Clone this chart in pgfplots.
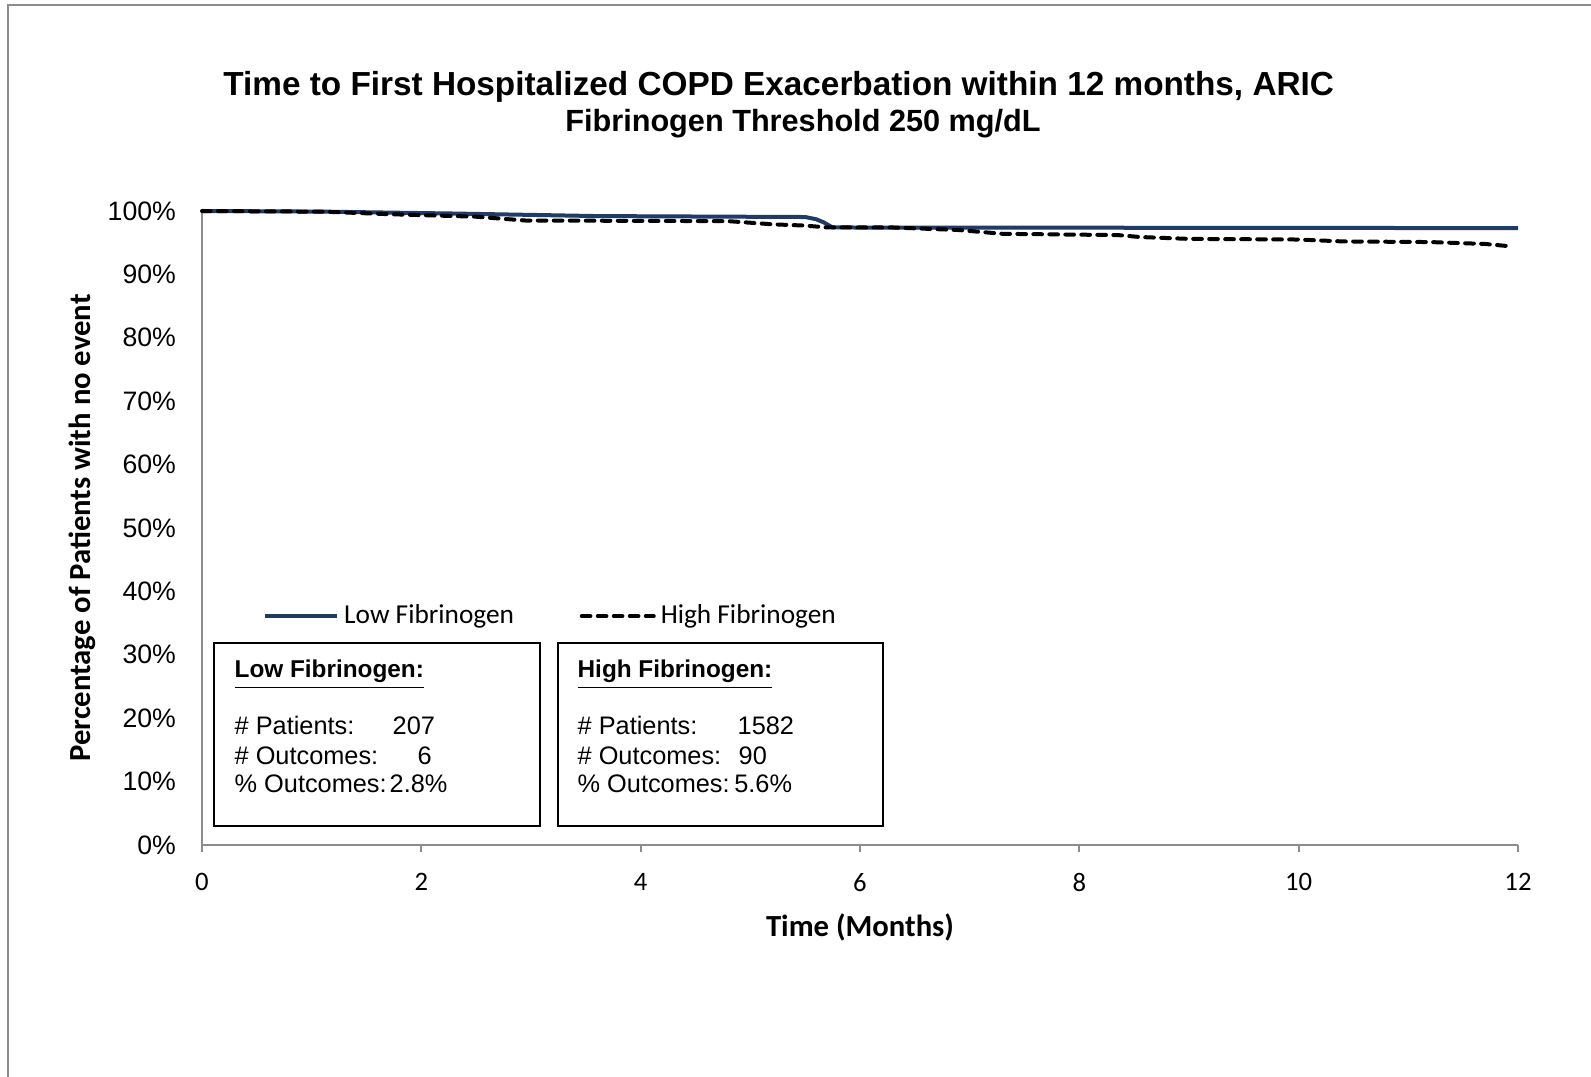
\documentclass[border=0pt]{standalone}
\usepackage{fontspec}
\setmainfont{Liberation Sans}
\newfontfamily\calibri{Carlito}
\usepackage{pgfplots}
\pgfplotsset{compat=1.18}
\definecolor{navy}{HTML}{1F3B66}
\definecolor{axgray}{HTML}{8C8C8C}
\begin{document}
\begin{tikzpicture}
\path[use as bounding box] (0pt,0pt) rectangle (477.3pt,-323.1pt);
\draw[axgray,line width=0.6pt] (2.4pt,-1.5pt) rectangle (520pt,-420pt);
\begin{axis}[
  at={(60.6pt,-253.5pt)}, anchor=south west,
  scale only axis, width=394.8pt, height=190.2pt,
  xmin=0, xmax=12, ymin=0, ymax=100,
  axis x line*=bottom, axis y line*=left,
  axis line style={axgray, line width=0.6pt},
  xtick={0,2,...,12},
  xticklabels={0,2,4,6,8,10,12},
  ytick={0,10,...,100},
  yticklabels={0\%,10\%,20\%,30\%,40\%,50\%,60\%,70\%,80\%,90\%,100\%},
  xtick align=outside,
  major tick length=2pt,
  xtick style={axgray, line width=0.6pt},
  ytick style={draw=none},
  xticklabel style={font=\calibri\fontsize{8}{9.6}\selectfont, yshift=-3pt},
  yticklabel style={font=\fontsize{8}{9.6}\selectfont, xshift=-4.3pt},
  xlabel={\calibri\bfseries Time (Months)},
  xlabel style={font=\fontsize{9.2}{11}\selectfont, yshift=0.4pt},
  ylabel={\calibri\bfseries Percentage of Patients with no event},
  ylabel style={font=\fontsize{9.2}{11}\selectfont, yshift=-3.4pt},
  legend columns=2,
  legend style={at={(rel axis cs:0.046,0.361)}, anchor=west, draw=none, fill=none,
    font=\calibri\fontsize{8.2}{9.8}\selectfont, inner xsep=0pt,
    nodes={inner xsep=1.5pt},
    /tikz/every even column/.append style={column sep=18.2pt}},
  legend cell align=left,
  legend image code/.code={\draw[#1] (0pt,0pt) -- (21.6pt,0pt);},
  clip=false,
]
\addplot[navy, line width=1.2pt] coordinates {
(0,100) (1.1,99.9) (2.3,99.6) (3.6,99.2) (5.5,99.05) (5.6,98.7) (5.67,98.2) (5.75,97.4) (12,97.3)
};
\addlegendentry{Low Fibrinogen}
\addplot[black, line width=1.2pt, dash pattern=on 2.6pt off 2.2pt, line cap=round] coordinates {
(0,100) (1.1,99.9) (1.7,99.5) (2.5,99.1) (2.95,98.5) (4.8,98.4) (5.2,97.9) (5.5,97.7) (5.7,97.4) (6.3,97.4) (6.9,97.0) (7.1,96.7) (7.3,96.4) (8.35,96.2) (8.55,95.9) (9.0,95.6) (10.0,95.5) (10.4,95.2) (11.2,95.1) (11.7,94.8) (11.95,94.4)
};
\addlegendentry{High Fibrinogen}
\end{axis}
% titles
\node[font=\bfseries\fontsize{10}{12}\selectfont] at (233.6pt,-26.1pt) {Time to First Hospitalized COPD Exacerbation within 12 months, ARIC};
\node[font=\bfseries\fontsize{9.2}{11}\selectfont] at (240.9pt,-37pt) {Fibrinogen Threshold 250 mg/dL};
% info boxes
\draw[black, line width=0.6pt] (64.2pt,-192.9pt) rectangle (162pt,-247.8pt);
\draw[black, line width=0.6pt] (167.4pt,-192.9pt) rectangle (264.9pt,-247.8pt);
\begin{scope}[every node/.style={anchor=base west, inner sep=0pt, font=\fontsize{7.6}{9}\selectfont}]
\node[font=\fontsize{7.3}{9}\selectfont] at (70.2pt,-203.4pt) {\bfseries\underline{Low Fibrinogen:}};
\node at (70.2pt,-220.5pt) {\# Patients:};
\node at (117.6pt,-220.5pt) {207};
\node at (70.2pt,-229.5pt) {\# Outcomes:};
\node at (125.1pt,-229.5pt) {6};
\node at (70.2pt,-237.9pt) {\% Outcomes:};
\node at (116.7pt,-237.9pt) {2.8\%};
\node[font=\fontsize{7.3}{9}\selectfont] at (173.1pt,-203.4pt) {\bfseries\underline{High Fibrinogen:}};
\node at (173.1pt,-220.5pt) {\# Patients:};
\node at (221.1pt,-220.5pt) {1582};
\node at (173.1pt,-229.5pt) {\# Outcomes:};
\node at (221.4pt,-229.5pt) {90};
\node at (173.1pt,-237.9pt) {\% Outcomes:};
\node at (220.1pt,-237.9pt) {5.6\%};
\end{scope}
\end{tikzpicture}
\end{document}
